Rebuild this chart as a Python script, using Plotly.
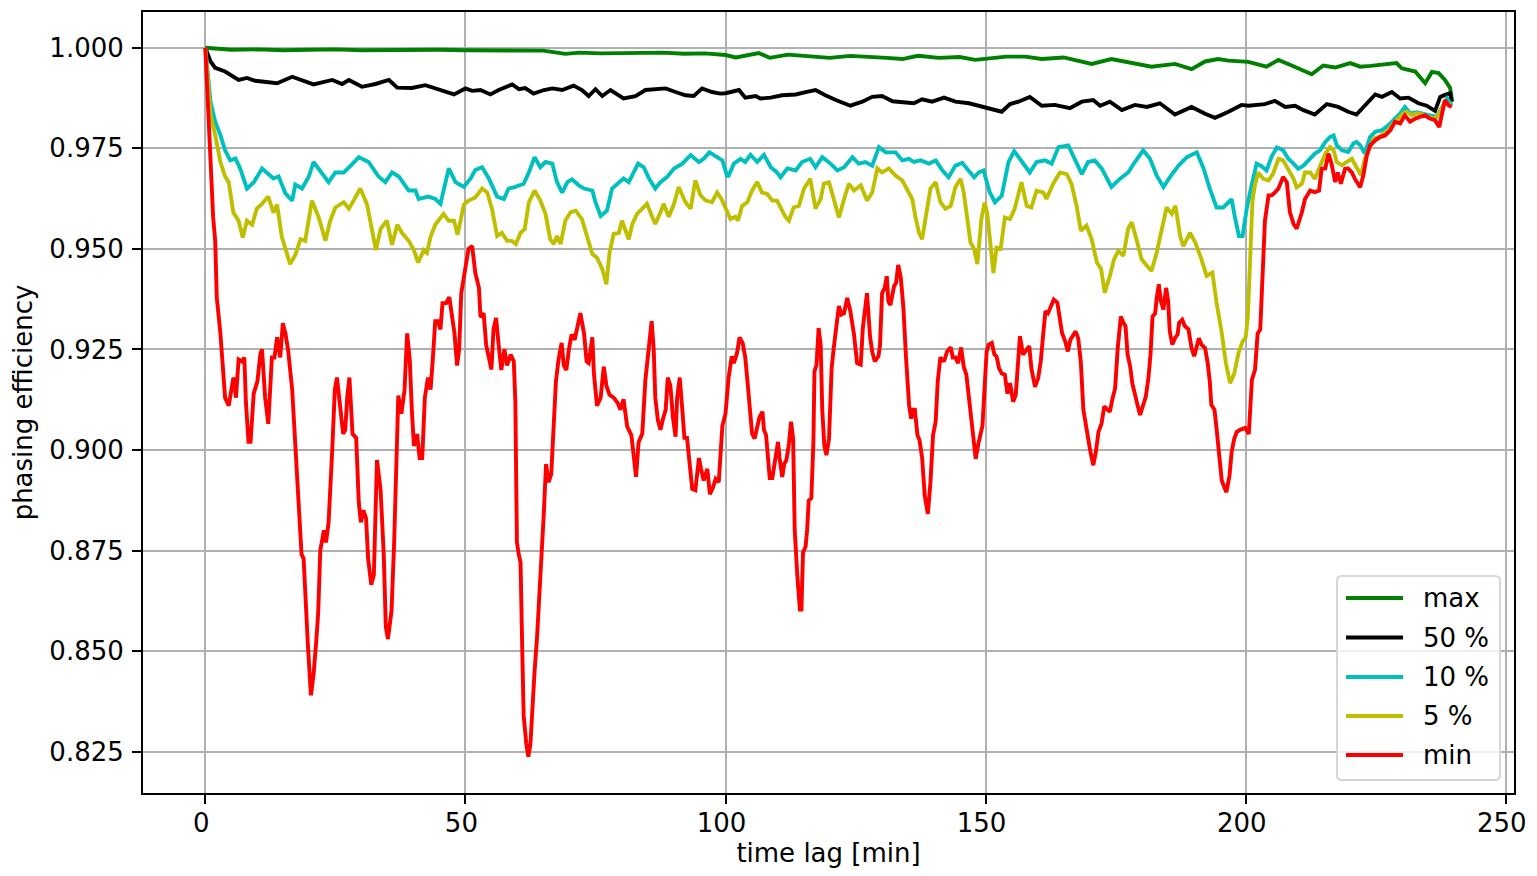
import plotly.graph_objects as go

# ---------------- data ----------------
max_t = [0, 5, 10, 15, 20, 25, 30, 35, 40, 45, 50, 55, 60, 65, 69.2, 72, 76, 80, 85, 88, 92, 96,
         100, 102, 106.4, 108.5, 112, 116, 120, 124, 128, 131, 134, 137, 141, 145, 148, 150,
         154, 157.6, 160.8, 165, 170.4, 174.2, 178.7, 181.9, 186.4, 189.6, 192.2, 194.7, 196.7,
         200.5, 204, 206.3, 208.5, 210.8, 212.7, 214.9, 217.2, 220.1, 222, 224, 226.8, 229, 230,
         232.6, 234.5, 235.8, 237.1, 238.3, 239.3, 239.7]
max_v = [1.0, 0.9995, 0.9996, 0.9994, 0.9995, 0.9996, 0.9994, 0.9995, 0.9994, 0.9995, 0.9994,
         0.9993, 0.9994, 0.9993, 0.9985, 0.9988, 0.9986, 0.9987, 0.9986, 0.9988, 0.9985, 0.9986,
         0.9982, 0.9976, 0.9987, 0.9975, 0.9983, 0.9980, 0.9975, 0.9980, 0.9978, 0.9975, 0.9972,
         0.9980, 0.9975, 0.9977, 0.9970, 0.9972, 0.9978, 0.9978, 0.9972, 0.9976, 0.9960, 0.9972,
         0.9960, 0.9953, 0.9960, 0.9947, 0.9966, 0.9972, 0.9968, 0.9965, 0.9953, 0.9970, 0.9958,
         0.9945, 0.9934, 0.9956, 0.9951, 0.9962, 0.9953, 0.9955, 0.9959, 0.9962, 0.9949, 0.9941,
         0.9912, 0.9940, 0.9937, 0.9920, 0.9900, 0.9866]

p50_t = [0, 0.5, 1.0, 1.9, 3.8, 6.4, 8.0, 9.6, 11.9, 13.8, 16.7, 18.6, 20.8, 24.4, 26.3, 27.6,
         30.1, 32.7, 35.3, 36.9, 39.7, 42.3, 45.5, 47.8, 50.0, 51.3, 52.9, 54.8, 56.4, 57.7, 59.0,
         60.3, 61.5, 63.1, 65.1, 66.7, 68.6, 70.8, 72.4, 73.7, 75.0, 76.3, 77.9, 80.4, 82.7, 84.6,
         86.5, 88.5, 90.4, 92.3, 93.9, 95.5, 97.4, 99.0, 100.0, 102.6, 103.8, 105.8, 106.7, 108.7,
         110.9, 113.5, 115.4, 117.3, 119.2, 121.2, 124.0, 126.3, 128.2, 130.1, 132.1, 134.0, 136.2,
         137.8, 139.7, 142.0, 144.2, 146.8, 149.4, 150.5, 151.6, 153.1, 154.7, 156.3, 158.5, 160.8,
         163.3, 166.2, 168.5, 170.7, 172.0, 173.9, 176.2, 178.7, 181.0, 183.5, 186.4, 189.6, 192.2,
         194.1, 196.7, 199.2, 200.5, 203.7, 205.6, 207.6, 209.5, 211.1, 213.3, 215.6, 217.8, 219.7,
         221.3, 222.9, 224.9, 226.2, 228.1, 229.7, 231.3, 233.2, 234.8, 236.4, 237.4, 238.3, 239.3,
         239.6]
p50_v = [1.0, 0.9980, 0.9966, 0.9950, 0.9941, 0.9920, 0.9925, 0.9918, 0.9915, 0.9912, 0.9928,
         0.9920, 0.9909, 0.9920, 0.9910, 0.9920, 0.9903, 0.9910, 0.9920, 0.9901, 0.9900, 0.9907,
         0.9895, 0.9884, 0.9899, 0.9893, 0.9895, 0.9884, 0.9895, 0.9903, 0.9909, 0.9897, 0.9900,
         0.9886, 0.9895, 0.9899, 0.9895, 0.9906, 0.9895, 0.9880, 0.9897, 0.9880, 0.9895, 0.9874,
         0.9880, 0.9895, 0.9897, 0.9899, 0.9890, 0.9882, 0.9880, 0.9899, 0.9890, 0.9886, 0.9887,
         0.9895, 0.9876, 0.9880, 0.9874, 0.9876, 0.9882, 0.9884, 0.9890, 0.9895, 0.9882, 0.9870,
         0.9856, 0.9866, 0.9878, 0.9880, 0.9867, 0.9864, 0.9862, 0.9872, 0.9866, 0.9876, 0.9866,
         0.9862, 0.9853, 0.9851, 0.9847, 0.9841, 0.9860, 0.9866, 0.9878, 0.9856, 0.9858, 0.9850,
         0.9866, 0.9870, 0.9856, 0.9866, 0.9845, 0.9858, 0.9853, 0.9862, 0.9834, 0.9853, 0.9836,
         0.9826, 0.9841, 0.9858, 0.9856, 0.9860, 0.9868, 0.9853, 0.9856, 0.9845, 0.9834, 0.9860,
         0.9853, 0.9841, 0.9834, 0.9857, 0.9884, 0.9878, 0.9890, 0.9874, 0.9876, 0.9862, 0.9856,
         0.9843, 0.9878, 0.9883, 0.9887, 0.9866]

p10_t = [0, 1.0, 1.9, 2.9, 3.8, 4.8, 5.8, 6.7, 8.0, 9.3, 10.9, 11.9, 13.1, 14.1, 15.4, 16.7, 17.3,
         18.6, 19.9, 20.8, 22.1, 23.7, 25.0, 26.6, 28.2, 29.5, 31.4, 33.3, 34.6, 35.9, 37.2, 39.1,
         40.4, 41.0, 42.9, 44.2, 45.2, 46.8, 48.1, 49.7, 51.0, 51.9, 53.2, 54.5, 56.1, 57.4, 58.3,
         59.6, 61.2, 62.2, 63.3, 64.4, 65.4, 66.7, 67.6, 68.6, 69.6, 70.5, 71.8, 72.8, 74.4, 75.0,
         76.0, 77.2, 78.2, 79.5, 80.4, 81.4, 83.2, 84.3, 85.3, 86.5, 87.5, 88.8, 90.1, 91.7, 93.3,
         94.9, 95.8, 96.9, 98.1, 99.4, 100.3, 100.6, 101.6, 102.9, 103.8, 104.8, 106.1, 107.4,
         108.7, 109.9, 110.6, 111.9, 113.5, 114.7, 116.3, 117.3, 118.6, 120.2, 121.5, 122.8, 124.4,
         125.6, 126.9, 128.2, 129.5, 130.8, 132.7, 134.0, 135.3, 136.2, 137.5, 139.1, 140.4, 141.7,
         142.9, 144.2, 145.5, 146.8, 147.8, 148.7, 149.6, 150.8, 151.8, 153.1, 154.4, 155.5, 156.9,
         158.5, 159.8, 161.4, 162.7, 164.0, 165.9, 167.2, 168.5, 169.7, 171.0, 172.3, 174.2, 175.8,
         177.4, 178.7, 180.3, 181.6, 182.9, 184.2, 185.4, 187.1, 188.7, 190.6, 191.9, 193.1, 194.4,
         195.7, 197.3, 197.9, 198.7, 199.4, 200.2, 201.2, 202.1, 203.1, 204.0, 205.0, 206.0, 207.2,
         208.2, 209.2, 210.1, 211.1, 212.1, 213.3, 214.3, 215.3, 216.2, 216.9, 217.5, 218.5, 219.7,
         220.7, 221.3, 222.0, 222.9, 223.9, 224.9, 226.2, 227.4, 228.7, 229.7, 230.6, 231.6, 232.9,
         234.2, 235.4, 236.7, 237.7, 238.7, 239.6]
p10_v = [1.0, 0.9866, 0.9816, 0.9783, 0.9745, 0.9720, 0.9725, 0.9700, 0.9650, 0.9665, 0.9700,
         0.9690, 0.9675, 0.9680, 0.9638, 0.9620, 0.9660, 0.9650, 0.9680, 0.9716, 0.9695, 0.9666,
         0.9690, 0.9690, 0.9710, 0.9728, 0.9716, 0.9680, 0.9666, 0.9690, 0.9680, 0.9645, 0.9645,
         0.9624, 0.9630, 0.9624, 0.9612, 0.9700, 0.9666, 0.9654, 0.9675, 0.9696, 0.9703, 0.9675,
         0.9630, 0.9624, 0.9650, 0.9654, 0.9662, 0.9690, 0.9728, 0.9703, 0.9716, 0.9712, 0.9666,
         0.9640, 0.9666, 0.9673, 0.9658, 0.9650, 0.9645, 0.9616, 0.9582, 0.9595, 0.9650, 0.9666,
         0.9675, 0.9666, 0.9712, 0.9703, 0.9675, 0.9650, 0.9666, 0.9679, 0.9700, 0.9712, 0.9733,
         0.9716, 0.9724, 0.9740, 0.9730, 0.9720, 0.9682, 0.9682, 0.9712, 0.9724, 0.9716, 0.9734,
         0.9716, 0.9734, 0.9703, 0.9690, 0.9678, 0.9700, 0.9695, 0.9716, 0.9724, 0.9703, 0.9728,
         0.9712, 0.9695, 0.9703, 0.9728, 0.9712, 0.9716, 0.9707, 0.9753, 0.9740, 0.9740, 0.9720,
         0.9724, 0.9716, 0.9720, 0.9712, 0.9720, 0.9695, 0.9678, 0.9707, 0.9714, 0.9695, 0.9678,
         0.9690, 0.9695, 0.9641, 0.9616, 0.9632, 0.9716, 0.9743, 0.9720, 0.9690, 0.9716, 0.9720,
         0.9712, 0.9753, 0.9757, 0.9724, 0.9686, 0.9716, 0.9720, 0.9700, 0.9654, 0.9674, 0.9690,
         0.9716, 0.9745, 0.9724, 0.9682, 0.9654, 0.9678, 0.9707, 0.9728, 0.9740, 0.9700, 0.9650,
         0.9603, 0.9603, 0.9624, 0.9580, 0.9532, 0.9532, 0.9600, 0.9662, 0.9712, 0.9705, 0.9695,
         0.9730, 0.9752, 0.9745, 0.9724, 0.9712, 0.9699, 0.9707, 0.9720, 0.9737, 0.9745, 0.9766,
         0.9778, 0.9782, 0.9758, 0.9745, 0.9741, 0.9762, 0.9766, 0.9758, 0.9737, 0.9778, 0.9791,
         0.9795, 0.9807, 0.9824, 0.9837, 0.9853, 0.9837, 0.9840, 0.9835, 0.9832, 0.9828, 0.9853,
         0.9874, 0.9857]

p5_t = [0, 1.0, 1.9, 2.9, 3.8, 4.5, 5.4, 6.4, 7.2, 8.0, 9.0, 9.9, 10.9, 12.1, 13.1, 13.8, 14.7,
        15.7, 16.3, 17.3, 18.3, 19.2, 20.5, 21.8, 23.1, 24.0, 25.0, 26.6, 27.6, 28.5, 29.8, 31.1,
        32.1, 32.8, 33.7, 34.9, 35.9, 36.9, 37.8, 39.1, 40.1, 40.9, 42.0, 42.6, 43.3, 44.2, 45.8,
        46.8, 47.8, 48.5, 49.7, 50.6, 51.9, 53.2, 54.2, 55.1, 56.1, 57.0, 58.0, 58.9, 59.7, 60.6,
        61.4, 62.2, 63.3, 64.4, 65.4, 66.3, 67.0, 67.6, 68.3, 69.2, 70.2, 71.2, 72.4, 73.4, 74.4,
        75.3, 76.3, 77.1, 77.7, 78.5, 79.5, 80.1, 81.4, 82.1, 83.0, 84.0, 84.9, 85.9, 86.5, 87.5,
        88.1, 89.1, 90.1, 91.0, 92.3, 93.3, 94.2, 95.2, 96.2, 97.4, 98.4, 99.2, 100.0, 100.96,
        101.9, 102.4, 103.2, 104.2, 105.1, 106.1, 107.0, 108.0, 109.0, 109.9, 110.9, 111.5, 112.2,
        113.1, 114.1, 115.1, 116.3, 117.3, 118.3, 118.9, 119.9, 120.8, 121.8, 122.8, 123.7, 124.7,
        126.0, 127.2, 128.2, 129.2, 130.1, 131.4, 132.7, 134.0, 134.9, 135.9, 136.5, 137.2, 137.8,
        138.5, 139.4, 140.4, 141.3, 142.3, 143.3, 144.2, 145.2, 145.8, 146.5, 147.1, 147.8, 148.4,
        149.2, 149.8, 150.3, 150.8, 151.5, 152.1, 152.9, 153.7, 154.7, 155.6, 156.9, 157.9, 158.8,
        159.8, 161.1, 161.7, 163.0, 164.3, 165.6, 166.5, 167.5, 168.3, 169.4, 170.4, 171.4, 172.2,
        172.9, 173.9, 174.7, 175.5, 176.5, 177.4, 178.1, 179.0, 180.0, 181.0, 181.9, 182.9, 183.8,
        184.8, 185.8, 186.5, 187.4, 188.0, 189.3, 190.3, 191.5, 192.5, 193.6, 194.4, 195.4, 196.2,
        197.0, 197.8, 198.6, 199.4, 200.0, 200.4, 200.8, 201.3, 201.8, 202.4, 203.4, 204.4, 205.3,
        206.3, 207.2, 208.2, 209.2, 209.8, 210.8, 211.4, 212.4, 213.3, 214.3, 215.3, 216.2, 216.9,
        217.5, 218.5, 219.4, 220.4, 221.3, 222.2, 222.9, 223.6, 224.6, 225.5, 226.5, 227.4, 228.4,
        229.4, 230.3, 231.0, 231.9, 232.9, 234.0, 235.1, 236.4, 237.4, 238.3, 239.3]
p5_v = [1.0, 0.9833, 0.9783, 0.9716, 0.9680, 0.9666, 0.9590, 0.9570, 0.9528, 0.9570, 0.9560,
        0.9600, 0.9612, 0.9630, 0.9590, 0.9610, 0.9530, 0.9485, 0.9462, 0.9485, 0.9524, 0.9520,
        0.9620, 0.9578, 0.9520, 0.9570, 0.9603, 0.9616, 0.9600, 0.9620, 0.9650, 0.9610, 0.9550,
        0.9497, 0.9550, 0.9570, 0.9510, 0.9560, 0.9540, 0.9520, 0.9497, 0.9466, 0.9497, 0.9490,
        0.9530, 0.9560, 0.9587, 0.9570, 0.9570, 0.9535, 0.9610, 0.9620, 0.9628, 0.9650, 0.9640,
        0.9600, 0.9532, 0.9540, 0.9520, 0.9520, 0.9512, 0.9540, 0.9549, 0.9616, 0.9645, 0.9620,
        0.9587, 0.9524, 0.9512, 0.9532, 0.9512, 0.9570, 0.9591, 0.9595, 0.9574, 0.9532, 0.9487,
        0.9478, 0.9450, 0.9412, 0.9490, 0.9537, 0.9540, 0.9570, 0.9524, 0.9562, 0.9587, 0.9600,
        0.9612, 0.9580, 0.9562, 0.9591, 0.9612, 0.9580, 0.9612, 0.9654, 0.9616, 0.9600, 0.9670,
        0.9633, 0.9620, 0.9616, 0.9640, 0.9625, 0.9600, 0.9574, 0.9580, 0.9570, 0.9607, 0.9616,
        0.9645, 0.9666, 0.9640, 0.9637, 0.9620, 0.9620, 0.9595, 0.9580, 0.9570, 0.9603, 0.9607,
        0.9650, 0.9674, 0.9600, 0.9624, 0.9662, 0.9666, 0.9624, 0.9578, 0.9624, 0.9662, 0.9645,
        0.9658, 0.9620, 0.9640, 0.9700, 0.9690, 0.9700, 0.9682, 0.9670, 0.9650, 0.9624, 0.9580,
        0.9540, 0.9524, 0.9578, 0.9650, 0.9666, 0.9616, 0.9600, 0.9607, 0.9654, 0.9674, 0.9640,
        0.9574, 0.9516, 0.9500, 0.9462, 0.9574, 0.9615, 0.9590, 0.9532, 0.9440, 0.9503, 0.9500,
        0.9578, 0.9574, 0.9600, 0.9666, 0.9607, 0.9603, 0.9645, 0.9640, 0.9624, 0.9662, 0.9690,
        0.9686, 0.9662, 0.9607, 0.9545, 0.9558, 0.9524, 0.9466, 0.9450, 0.9391, 0.9433, 0.9474,
        0.9495, 0.9483, 0.9550, 0.9566, 0.9524, 0.9474, 0.9458, 0.9445, 0.9491, 0.9550, 0.9603,
        0.9587, 0.9607, 0.9532, 0.9507, 0.9540, 0.9516, 0.9474, 0.9433, 0.9441, 0.9366, 0.9291,
        0.9216, 0.9166, 0.9190, 0.9240, 0.9270, 0.9280, 0.9330, 0.9454, 0.9620, 0.9660, 0.9690,
        0.9674, 0.9670, 0.9688, 0.9724, 0.9720, 0.9697, 0.9674, 0.9653, 0.9662, 0.9690, 0.9690,
        0.9674, 0.9708, 0.9737, 0.9753, 0.9745, 0.9716, 0.9708, 0.9716, 0.9724, 0.9703, 0.9683,
        0.9724, 0.9745, 0.9774, 0.9778, 0.9787, 0.9795, 0.9812, 0.9824, 0.9837, 0.9841, 0.9832,
        0.9837, 0.9834, 0.9828, 0.9824, 0.9841, 0.9866, 0.9857]

min_t = [0, 0.5, 1.0, 1.5, 1.9, 2.2, 2.9, 3.8, 4.5, 5.4, 5.9, 6.4, 7.1, 7.5, 7.8, 8.3, 8.7, 9.3,
         10.0, 10.6, 10.9, 11.5, 12.1, 12.8, 13.3, 13.8, 14.4, 14.9, 15.4, 15.9, 16.7, 17.3, 17.9,
         18.5, 18.9, 19.2, 19.7, 20.3, 20.8, 21.3, 21.7, 22.1, 22.8, 23.2, 23.7, 24.4, 24.9, 25.3,
         25.8, 26.5, 26.9, 27.3, 27.7, 28.3, 29.0, 29.5, 29.9, 30.4, 30.9, 31.3, 31.9, 32.4, 33.0,
         33.7, 34.3, 34.7, 35.1, 35.8, 36.3, 36.7, 37.1, 37.7, 38.3, 38.8, 39.3, 39.7, 40.1, 40.7,
         41.2, 41.7, 42.2, 42.8, 43.3, 43.7, 44.2, 44.7, 45.2, 45.6, 46.3, 46.9, 47.4, 47.9, 48.4,
         48.8, 49.2, 49.6, 50.0, 50.6, 51.3, 51.9, 52.6, 52.9, 53.5, 54.0, 54.5, 55.0, 55.4, 55.9,
         56.4, 56.9, 57.5, 58.0, 58.7, 59.3, 59.6, 59.9, 60.3, 60.6, 60.9, 61.2, 61.7, 62.1, 62.5,
         62.9, 63.3, 63.8, 64.2, 64.7, 65.1, 65.5, 66.0, 66.5, 67.0, 67.4, 67.9, 68.5, 68.9, 69.4,
         69.9, 70.4, 71.0, 71.5, 72.1, 72.8, 73.3, 73.7, 74.4, 74.7, 75.3, 76.0, 76.6, 77.1, 77.7,
         78.5, 79.3, 79.8, 80.4, 81.1, 81.9, 82.4, 82.8, 83.3, 84.0, 84.6, 85.3, 85.8, 86.2, 86.5,
         87.0, 87.5, 88.0, 88.5, 88.9, 89.4, 89.9, 90.4, 90.7, 91.2, 91.7, 92.1, 92.6, 93.1, 93.6,
         94.2, 94.9, 95.3, 95.8, 96.5, 97.0, 97.6, 98.1, 98.7, 99.4, 100.0, 100.6, 101.2, 101.6,
         102.2, 102.7, 103.3, 103.8, 104.3, 104.7, 105.1, 105.6, 106.1, 106.5, 107.1, 107.4, 107.8,
         108.2, 108.5, 109.0, 109.5, 110.1, 110.4, 110.9, 111.3, 111.7, 112.2, 112.6, 113.0, 113.3,
         113.8, 114.3, 114.6, 114.9, 115.4, 115.7, 116.0, 116.5, 116.9, 117.1, 117.5, 117.9, 118.3,
         118.6, 119.0, 119.4, 119.9, 120.4, 120.8, 121.3, 121.8, 122.3, 122.8, 123.4, 124.0, 124.7,
         125.3, 126.0, 126.4, 127.2, 127.8, 128.2, 128.7, 129.4, 129.7, 130.1, 130.6, 131.0, 131.3,
         131.7, 132.4, 132.8, 133.2, 133.7, 134.2, 134.7, 135.3, 135.7, 136.1, 136.4, 136.9, 137.3,
         137.8, 138.3, 138.9, 139.4, 139.9, 140.4, 140.8, 141.3, 142.0, 142.6, 143.3, 143.7, 144.2,
         144.7, 145.3, 145.8, 146.3, 146.8, 147.2, 147.6, 148.1, 148.6, 149.0, 149.4, 149.7, 150.2,
         150.6, 151.2, 151.7, 152.1, 152.6, 153.1, 153.7, 154.2, 154.7, 155.3, 155.8, 156.2, 156.6,
         157.2, 157.9, 158.4, 158.8, 159.5, 160.1, 160.6, 161.1, 161.5, 162.0, 162.6, 163.1, 163.8,
         164.3, 164.7, 165.3, 165.8, 166.3, 166.9, 167.3, 167.8, 168.3, 168.8, 169.4, 170.1, 170.7,
         171.2, 171.7, 172.3, 172.8, 173.4, 173.9, 174.4, 174.9, 175.4, 176.0, 176.5, 176.9, 177.3,
         177.8, 178.2, 178.7, 179.2, 179.7, 180.3, 180.8, 181.3, 181.7, 182.1, 182.6, 182.9, 183.3,
         183.7, 184.2, 184.7, 185.1, 185.4, 185.9, 186.4, 186.9, 187.2, 187.8, 188.3, 189.0, 189.6,
         190.1, 190.6, 191.0, 191.5, 192.2, 192.7, 193.1, 193.4, 194.0, 194.4, 194.9, 195.4, 195.9,
         196.3, 196.9, 197.3, 197.8, 198.3, 198.9, 199.9, 200.6, 201.2, 201.8, 202.3, 202.8, 203.4,
         203.7, 204.4, 205.0, 205.6, 206.3, 207.2, 207.9, 208.5, 209.2, 209.8, 210.8, 211.4, 212.4,
         213.3, 214.1, 214.6, 215.3, 215.9, 216.5, 217.2, 217.7, 218.3, 219.1, 219.7, 220.4, 221.0,
         222.0, 222.6, 223.3, 223.9, 224.9, 225.8, 226.8, 227.8, 228.7, 229.7, 230.6, 231.6, 232.6,
         233.5, 234.5, 235.4, 236.4, 237.2, 237.7, 238.3, 239.0, 239.6]
min_v = [1.0, 0.985, 0.970, 0.958, 0.952, 0.938, 0.929, 0.913, 0.911, 0.918, 0.913, 0.9225,
         0.922, 0.923, 0.912, 0.902, 0.902, 0.914, 0.917, 0.924, 0.925, 0.913, 0.9065, 0.923,
         0.923, 0.928, 0.923, 0.9315, 0.929, 0.925, 0.915, 0.900, 0.885, 0.874, 0.873, 0.863,
         0.852, 0.839, 0.844, 0.852, 0.8595, 0.875, 0.880, 0.877, 0.882, 0.900, 0.915, 0.918,
         0.912, 0.904, 0.905, 0.9135, 0.918, 0.904, 0.903, 0.887, 0.882, 0.885, 0.883, 0.873,
         0.8665, 0.869, 0.8975, 0.890, 0.874, 0.856, 0.853, 0.860, 0.877, 0.900, 0.9135, 0.909,
         0.915, 0.929, 0.9225, 0.910, 0.901, 0.904, 0.898, 0.898, 0.913, 0.918, 0.915, 0.922,
         0.932, 0.932, 0.930, 0.9365, 0.9365, 0.938, 0.934, 0.929, 0.921, 0.925, 0.939, 0.942,
         0.946, 0.950, 0.9507, 0.944, 0.9403, 0.933, 0.934, 0.926, 0.923, 0.920, 0.930, 0.9328,
         0.926, 0.9199, 0.925, 0.921, 0.9237, 0.922, 0.912, 0.877, 0.8737, 0.872, 0.852, 0.834,
         0.827, 0.8237, 0.827, 0.8385, 0.845, 0.854, 0.8624, 0.873, 0.885, 0.8965, 0.892, 0.894,
         0.906, 0.917, 0.9224, 0.9266, 0.921, 0.9199, 0.925, 0.9287, 0.9274, 0.931, 0.934, 0.929,
         0.922, 0.9216, 0.928, 0.919, 0.911, 0.913, 0.9207, 0.916, 0.9137, 0.913, 0.9116, 0.910,
         0.9126, 0.9058, 0.9037, 0.898, 0.8933, 0.902, 0.904, 0.9174, 0.926, 0.932, 0.925, 0.913,
         0.9074, 0.905, 0.9078, 0.910, 0.918, 0.916, 0.908, 0.9033, 0.913, 0.918, 0.910, 0.903,
         0.903, 0.8953, 0.8903, 0.890, 0.898, 0.8953, 0.8924, 0.8953, 0.889, 0.8907, 0.8928, 0.892,
         0.906, 0.909, 0.918, 0.9233, 0.9216, 0.924, 0.928, 0.9266, 0.923, 0.916, 0.910, 0.9041,
         0.9028, 0.9058, 0.908, 0.9095, 0.905, 0.9037, 0.898, 0.893, 0.893, 0.897, 0.902, 0.898,
         0.8933, 0.8966, 0.8974, 0.9016, 0.907, 0.9028, 0.8803, 0.8688, 0.8603, 0.8603, 0.8745,
         0.876, 0.8803, 0.8874, 0.888, 0.902, 0.9195, 0.9212, 0.9303, 0.926, 0.910, 0.901, 0.8987,
         0.9028, 0.9203, 0.9253, 0.9316, 0.9358, 0.9337, 0.934, 0.9378, 0.9345, 0.9287, 0.9216,
         0.9212, 0.9303, 0.939, 0.928, 0.9245, 0.922, 0.9233, 0.926, 0.939, 0.9403, 0.9432, 0.937,
         0.936, 0.9407, 0.9416, 0.946, 0.9428, 0.9353, 0.923, 0.911, 0.9078, 0.910, 0.910, 0.9037,
         0.9024, 0.898, 0.8887, 0.8841, 0.892, 0.9037, 0.907, 0.917, 0.923, 0.922, 0.9245, 0.9255,
         0.923, 0.923, 0.9216, 0.9255, 0.9207, 0.9187, 0.913, 0.9078, 0.902, 0.8978, 0.9015,
         0.9035, 0.906, 0.913, 0.9245, 0.9262, 0.9266, 0.9237, 0.9233, 0.9203, 0.919, 0.9187,
         0.914, 0.9166, 0.912, 0.9137, 0.922, 0.9283, 0.9237, 0.925, 0.9258, 0.9203, 0.9157,
         0.9178, 0.922, 0.9291, 0.9345, 0.934, 0.9358, 0.9374, 0.9366, 0.932, 0.9291, 0.927,
         0.9245, 0.9274, 0.9287, 0.9295, 0.9278, 0.922, 0.910, 0.9049, 0.8999, 0.8962, 0.8995,
         0.9045, 0.9066, 0.9108, 0.910, 0.9095, 0.9128, 0.9153, 0.9253, 0.9332, 0.9316, 0.9308,
         0.9237, 0.9207, 0.9166, 0.9133, 0.9112, 0.9087, 0.9112, 0.9133, 0.9178, 0.9237, 0.9332,
         0.934, 0.9378, 0.9412, 0.937, 0.9349, 0.9403, 0.937, 0.9295, 0.9262, 0.9278, 0.9287,
         0.9316, 0.9324, 0.9308, 0.930, 0.9253, 0.9233, 0.9258, 0.9278, 0.9262, 0.9253, 0.9216,
         0.917, 0.9112, 0.910, 0.9053, 0.8987, 0.8924, 0.8907, 0.8895, 0.8937, 0.8995, 0.9028,
         0.9045, 0.905, 0.9055, 0.904, 0.9175, 0.920, 0.929, 0.930, 0.949, 0.957, 0.9633, 0.9633,
         0.964, 0.965, 0.9679, 0.9666, 0.9591, 0.9562, 0.955, 0.9591, 0.9624, 0.9645, 0.9641,
         0.9645, 0.9699, 0.970, 0.9737, 0.9712, 0.9666, 0.969, 0.9662, 0.9699, 0.970, 0.969,
         0.9674, 0.9653, 0.9682, 0.9733, 0.9757, 0.977, 0.9778, 0.9782, 0.9795, 0.9816, 0.9812,
         0.9832, 0.9816, 0.9824, 0.9828, 0.9832, 0.9824, 0.982, 0.9803, 0.9836, 0.987, 0.9857,
         0.9853]

series_names = ["max", "50 %", "10 %", "5 %", "min"]
series_colors = ["#008000", "#000000", "#00bfbf", "#bfbf00", "#ff0000"]
x_ticks = [0, 50, 100, 150, 200, 250]
y_ticks = [0.825, 0.850, 0.875, 0.900, 0.925, 0.950, 0.975, 1.000]

# ---------------- figure ----------------
FONT = "DejaVu Sans"
fig = go.Figure()
for name, t, v, c in zip(series_names,
                         [max_t, p50_t, p10_t, p5_t, min_t],
                         [max_v, p50_v, p10_v, p5_v, min_v],
                         series_colors):
    fig.add_trace(go.Scatter(x=t, y=v, mode="lines", name=name,
                             line=dict(color=c, width=3.9)))

axis_common = dict(showline=True, mirror=True, linecolor="black", linewidth=2,
                   ticks="outside", ticklen=9, tickwidth=2, tickcolor="black",
                   showgrid=True, gridcolor="#b0b0b0", gridwidth=2, zeroline=False,
                   ticklabeloverflow="allow", automargin=False,
                   tickfont=dict(family=FONT, size=26, color="black"))

# plot area in screen pixels (page body keeps an 8 px margin)
PL, PR, PT, PB = 143, 1514, 12, 793
W, H = PR - PL, PB - PT


def px(x):
    return (x - PL) / W


def py(y):
    return (PB - y) / H


# legend drawn as a matplotlib-style box (rounded frame, long line samples)
shapes = []
annotations = []
bx0, bx1, by0, by1, r = 1337, 1500, 576, 780, 5
rx, ry = r / W, r / H
shapes.append(dict(
    type="path", xref="paper", yref="paper",
    path=(f"M {px(bx0)+rx},{py(by0)} L {px(bx1)-rx},{py(by0)} "
          f"Q {px(bx1)},{py(by0)} {px(bx1)},{py(by0)-ry} "
          f"L {px(bx1)},{py(by1)+ry} Q {px(bx1)},{py(by1)} {px(bx1)-rx},{py(by1)} "
          f"L {px(bx0)+rx},{py(by1)} Q {px(bx0)},{py(by1)} {px(bx0)},{py(by1)+ry} "
          f"L {px(bx0)},{py(by0)-ry} Q {px(bx0)},{py(by0)} {px(bx0)+rx},{py(by0)} Z"),
    fillcolor="rgba(255,255,255,0.8)", line=dict(color="#d6d6d6", width=2), layer="above"))
row_y = [598, 637.5, 677, 716, 755]
for name, c, yy in zip(series_names, series_colors, row_y):
    shapes.append(dict(type="line", xref="paper", yref="paper",
                       x0=px(1346), x1=px(1403), y0=py(yy), y1=py(yy),
                       line=dict(color=c, width=3.9), layer="above"))
    annotations.append(dict(text=name, xref="paper", yref="paper", x=px(1421), y=py(yy),
                            xanchor="left", yanchor="middle", showarrow=False,
                            font=dict(family=FONT, size=26, color="black")))

fig.update_layout(
    paper_bgcolor="white", plot_bgcolor="white",
    margin=dict(l=135, r=15, t=4, b=75),
    font=dict(family=FONT, size=26, color="black"),
    showlegend=False,
    shapes=shapes, annotations=annotations,
    xaxis=dict(range=[-11.98, 251.58], tickvals=x_ticks, ticktext=[str(v) for v in x_ticks],
               title=dict(text="time lag [min]", font=dict(family=FONT, size=26), standoff=6),
               ticklabelshift=-4, ticklabelstandoff=-3,
               **axis_common),
    yaxis=dict(range=[0.8147, 1.0089], tickvals=y_ticks,
               ticktext=[f"{v:.3f}" for v in y_ticks],
               title=dict(text="phasing efficiency", font=dict(family=FONT, size=26), standoff=12),
               ticklabelstandoff=3,
               **axis_common),
)

fig.write_html("out.html")
